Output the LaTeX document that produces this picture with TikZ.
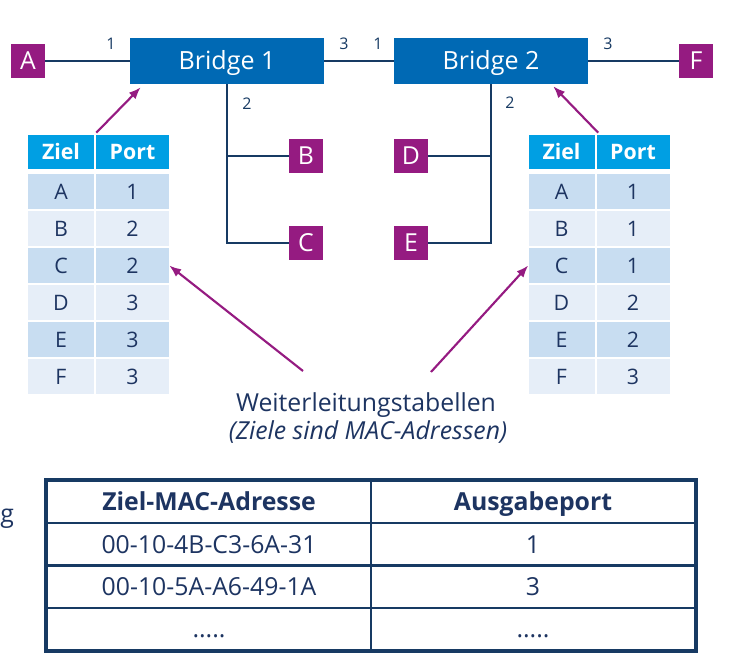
\documentclass[tikz,border=0pt]{standalone}
\usepackage{fontspec}
\setmainfont{Open Sans}
\usetikzlibrary{arrows.meta,positioning,calc}
\definecolor{Ink}{HTML}{173A63}
\definecolor{BridgeBlue}{HTML}{0069B4}
\definecolor{HostPurple}{HTML}{951B81}
\definecolor{HeadBlue}{HTML}{009FE3}
\definecolor{RowDark}{HTML}{C8DDF1}
\definecolor{RowLight}{HTML}{E6EEF8}
\definecolor{TabText}{HTML}{1D3461}
\newcommand{\ZielRow}[7]{%
  \node[zcell,fill=#5] (#1-#6-z) at (#2,#4) {#6};%
  \node[pcell,fill=#5] (#1-#6-p) at (#3,#4) {#7};%
}
\tikzset{
  bridge/.style={fill=BridgeBlue,text=white,minimum width=145.5pt,minimum height=34.5pt,
    inner sep=0pt,font=\fontsize{18.8}{22}\selectfont,text height=13.4pt,text depth=0pt},
  host/.style={fill=HostPurple,text=white,minimum width=25.5pt,minimum height=25.5pt,
    inner sep=0pt,font=\fontsize{18.6}{22}\selectfont,text height=13.3pt,text depth=0pt},
  portlbl/.style={text=Ink,font=\fontsize{12}{14}\selectfont,inner sep=0pt},
  link/.style={draw=Ink,line width=2.2pt},
  pointer/.style={draw=HostPurple,line width=1.6pt,-{Latex[length=9pt,width=7pt]}},
  zcell/.style={minimum width=49.5pt,minimum height=26.25pt,inner sep=0pt,text=TabText,
    font=\fontsize{16}{18}\selectfont,text height=11.4pt,text depth=0pt},
  pcell/.style={zcell,minimum width=54.75pt},
  zhead/.style={zcell,fill=HeadBlue,text=white,minimum height=25.5pt,
    font=\fontsize{16}{18}\selectfont\bfseries},
  phead/.style={zhead,minimum width=54.75pt},
  mcell/.style={draw=Ink,line width=1.5pt,minimum width=243pt,minimum height=31.7pt,
    inner sep=0pt,text=TabText,font=\fontsize{18.6}{22}\selectfont,text height=13.3pt,text depth=0pt},
  mhead/.style={mcell,font=\fontsize{18.6}{22}\selectfont\bfseries},
}
\begin{document}
\begin{tikzpicture}[x=0.75pt,y=-0.75pt]
\useasboundingbox (0,0) rectangle (740,659);
% bridges and hosts
\node[host] (A) at (28,61) {A};
\node[bridge] (b1) at (227,61) {Bridge 1};
\node[bridge] (b2) at (491,61) {Bridge 2};
\node[host] (F) at (696,61) {F};
\node[host] (B) at (306,156) {B};
\node[host] (C) at (306,243) {C};
\node[host] (D) at (411,156) {D};
\node[host] (E) at (411,243) {E};
\draw[link] (A) -- (b1);
\draw[link] (b1) -- (b2);
\draw[link] (b2) -- (F);
\draw[link] (b1.south) |- (C.west);
\draw[link] (b1.south |- B.west) -- (B.west);
\draw[link] (b2.south) |- (E.east);
\draw[link] (b2.south |- D.east) -- (D.east);
% port numbers
\node[portlbl] (b1-p1) at (111,44) {1};
\node[portlbl] (b1-p3) at (344,44) {3};
\node[portlbl] (b1-p2) at (247,104) {2};
\node[portlbl] (b2-p1) at (378,44) {1};
\node[portlbl] (b2-p3) at (608,44) {3};
\node[portlbl] (b2-p2) at (510,103) {2};
% forwarding table bridge 1
\node[zhead] (tl-h-z) at (61,152) {Ziel};
\node[phead] (tl-h-p) at (132.5,152) {Port};
\ZielRow{tl}{61}{132.5}{191.5}{RowDark}{A}{1}
\ZielRow{tl}{61}{132.5}{228.5}{RowLight}{B}{2}
\ZielRow{tl}{61}{132.5}{265.5}{RowDark}{C}{2}
\ZielRow{tl}{61}{132.5}{302.5}{RowLight}{D}{3}
\ZielRow{tl}{61}{132.5}{339.5}{RowDark}{E}{3}
\ZielRow{tl}{61}{132.5}{376.5}{RowLight}{F}{3}
% forwarding table bridge 2
\node[zhead] (tr-h-z) at (561.5,152) {Ziel};
\node[phead] (tr-h-p) at (633,152) {Port};
\ZielRow{tr}{561.5}{633}{191.5}{RowDark}{A}{1}
\ZielRow{tr}{561.5}{633}{228.5}{RowLight}{B}{1}
\ZielRow{tr}{561.5}{633}{265.5}{RowDark}{C}{1}
\ZielRow{tr}{561.5}{633}{302.5}{RowLight}{D}{2}
\ZielRow{tr}{561.5}{633}{339.5}{RowDark}{E}{2}
\ZielRow{tr}{561.5}{633}{376.5}{RowLight}{F}{3}
\draw[pointer] ($(tl-h-z.north east)+(2,-2)$) -- ($(b1.south west)+(11,3)$);
\draw[pointer] ($(tr-h-p.north west)+(2,-2)$) -- ($(b2.south east)+(-35,2)$);
% caption with pointers
\node[font=\fontsize{18.6}{22}\selectfont,text=TabText,anchor=base] (wlt) at (366,412) {Weiterleitungstabellen};
\node[font=\fontsize{18.6}{22}\selectfont\itshape,text=TabText,anchor=base] (wlt-sub) at (368,440) {(Ziele sind MAC-Adressen)};
\coordinate (wlt-l) at (303,371);
\coordinate (wlt-r) at (431,372);
\draw[pointer] (wlt-l) -- (tl-C-p.east);
\draw[pointer] (wlt-r) -- (tr-C-z.west);
% MAC table
\node[anchor=base west,inner sep=0pt,text=TabText,font=\fontsize{18.6}{22}\selectfont] (cut-g) at (0,523) {g};
\node[mhead] (mac-h) at (209,502.1) {Ziel-MAC-Adresse};
\node[mhead] (port-h) at (533,502.1) {Ausgabeport};
\node[mcell] (mac-1) at (209,544.4) {00-10-4B-C3-6A-31};
\node[mcell] (port-1) at (533,544.4) {1};
\node[mcell] (mac-2) at (209,586.6) {00-10-5A-A6-49-1A};
\node[mcell] (port-2) at (533,586.6) {3};
\node[mcell] (mac-3) at (209,628.9) {.....};
\node[mcell] (port-3) at (533,628.9) {.....};
\draw[Ink,line width=3pt] (mac-h.north west) rectangle (port-3.south east);
\end{tikzpicture}
\end{document}
